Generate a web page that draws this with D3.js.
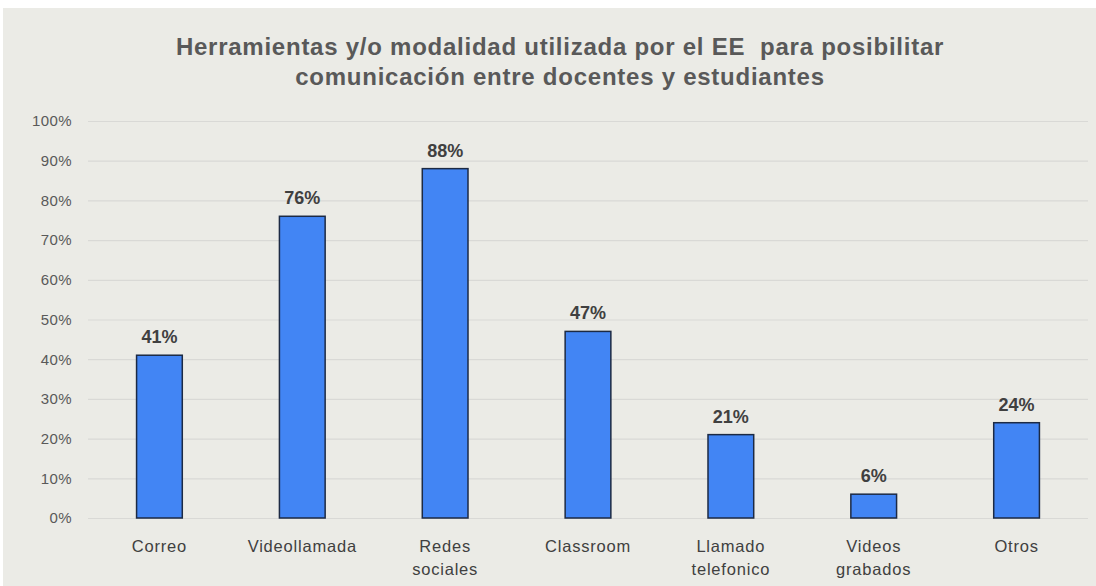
<!DOCTYPE html>
<html><head><meta charset="utf-8">
<script src="https://cdn.jsdelivr.net/npm/d3@7"></script>
<style>body{margin:0;background:#fff}svg{display:block}text{white-space:pre}</style>
</head><body>
<svg id="c" width="1096" height="586"></svg>
<script>
const categories = [["Correo"],["Videollamada"],["Redes","sociales"],["Classroom"],["Llamado","telefonico"],["Videos","grabados"],["Otros"]];
const values = [41, 76, 88, 47, 21, 6, 24];
const yTicks = [0,10,20,30,40,50,60,70,80,90,100];
const titleLines = ["Herramientas y/o modalidad utilizada por el EE  para posibilitar","comunicación entre docentes y estudiantes"];

const font = "Liberation Sans, Arial, sans-serif";
const svg = d3.select("#c");
svg.append("rect").attr("x",3).attr("y",8).attr("width",1093).attr("height",578).attr("fill","#ebebe6");

const x = d3.scaleBand().domain(d3.range(values.length)).range([88,1088]).paddingInner(0.68).paddingOuter(0.34);
const y = d3.scaleLinear().domain([0,100]).range([518,121]);

svg.append("g").selectAll("text").data(titleLines).join("text")
  .attr("x",560).attr("y",(d,i)=>55+i*30).attr("text-anchor","middle")
  .attr("font-family",font).attr("font-weight","bold").attr("letter-spacing",0.75)
  .attr("font-size",24).attr("fill","#595959").text(d=>d);

const yAxis = svg.append("g").attr("transform","translate(88,0)")
  .call(d3.axisLeft(y).tickValues(yTicks).tickSize(-1000).tickFormat(d=>d+"%"));
yAxis.select(".domain").remove();
yAxis.selectAll("line").attr("stroke","#d9d9d6").attr("stroke-width",1.2);
yAxis.selectAll("text").attr("x",-16).attr("font-family",font).attr("letter-spacing",0.4)
  .attr("font-size",15).attr("fill","#595959");

svg.append("g").selectAll("rect").data(values).join("rect")
  .attr("x",(d,i)=>x(i)).attr("y",d=>y(d)).attr("width",x.bandwidth()).attr("height",d=>y(0)-y(d))
  .attr("fill","#4285f4").attr("stroke","#1c2a44").attr("stroke-width",1.5);

svg.append("g").selectAll("text").data(values).join("text")
  .attr("x",(d,i)=>x(i)+x.bandwidth()/2).attr("y",d=>y(d)-12).attr("text-anchor","middle")
  .attr("font-family",font).attr("font-weight","bold")
  .attr("font-size",18).attr("fill","#404040").text(d=>d+"%");

const xl = svg.append("g").selectAll("text").data(categories).join("text")
  .attr("x",(d,i)=>x(i)+x.bandwidth()/2).attr("y",552).attr("text-anchor","middle")
  .attr("font-family",font).attr("font-size",16.5).attr("letter-spacing",0.8).attr("fill","#404040");
xl.selectAll("tspan").data(d=>d).join("tspan")
  .attr("x",function(){return this.parentNode.getAttribute("x");})
  .attr("dy",(d,i)=>i===0?0:23).text(d=>d);
</script>
</body></html>
